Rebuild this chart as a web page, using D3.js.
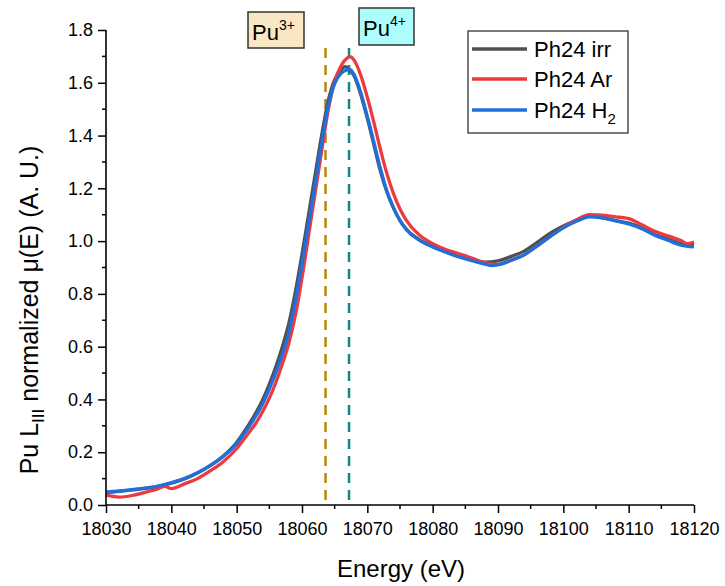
<!DOCTYPE html>
<html><head><meta charset="utf-8">
<script src="https://cdn.jsdelivr.net/npm/d3@7"></script>
<style>body{margin:0;background:#fff}svg{display:block;font-family:"Liberation Sans",Arial,sans-serif}</style>
</head><body>
<svg id="c" width="725" height="586"></svg>
<script>
// ---- data ----
const energyIrr = [18030,18032,18034,18036,18038,18040,18042,18044,18046,18048,18050,18051,18052,18053,18054,18055,18056,18057,18058,18059,18060,18061,18062,18063,18064,18065,18066,18066.6,18067,18068,18069,18070,18071,18072,18073,18074,18075,18076,18078,18080,18082,18084,18086,18088,18090,18092,18094,18096,18098,18100,18102,18104,18106,18108,18110,18112,18114,18116,18118,18120];
const irrValues = [0.048,0.052,0.057,0.063,0.071,0.083,0.099,0.121,0.150,0.187,0.237,0.272,0.310,0.352,0.400,0.458,0.525,0.600,0.690,0.810,0.950,1.100,1.250,1.400,1.530,1.612,1.650,1.661,1.656,1.625,1.555,1.465,1.365,1.265,1.185,1.125,1.078,1.045,1.005,0.980,0.960,0.944,0.930,0.920,0.925,0.942,0.962,0.995,1.030,1.057,1.080,1.095,1.088,1.078,1.068,1.050,1.025,1.008,0.990,0.985];

const energyAr = [18030,18032,18034,18036,18038,18039,18040,18042,18044,18046,18048,18050,18051,18052,18053,18054,18055,18056,18057,18058,18059,18060,18061,18062,18063,18064,18065,18066,18067,18067.3,18068,18069,18070,18071,18072,18073,18074,18075,18076,18078,18080,18082,18084,18086,18088,18090,18092,18094,18096,18098,18100,18102,18104,18106,18108,18110,18112,18114,18116,18118,18119,18120];
const arValues = [0.037,0.030,0.036,0.048,0.062,0.071,0.062,0.080,0.100,0.130,0.165,0.214,0.245,0.278,0.312,0.355,0.405,0.465,0.535,0.615,0.720,0.860,1.020,1.180,1.340,1.495,1.605,1.665,1.695,1.699,1.685,1.628,1.545,1.450,1.348,1.255,1.180,1.122,1.078,1.022,0.990,0.968,0.952,0.936,0.918,0.912,0.927,0.948,0.982,1.017,1.052,1.080,1.100,1.098,1.092,1.085,1.062,1.037,1.020,1.002,0.990,0.997];

const energyH2 = [18030,18032,18034,18036,18038,18040,18042,18044,18046,18048,18050,18051,18052,18053,18054,18055,18056,18057,18058,18059,18060,18061,18062,18063,18064,18065,18066,18067,18067.3,18068,18069,18070,18071,18072,18073,18074,18075,18076,18078,18080,18082,18084,18086,18088,18089,18090,18092,18094,18096,18098,18100,18102,18104,18106,18108,18110,18112,18114,18116,18118,18120];
const h2Values = [0.049,0.053,0.058,0.064,0.072,0.085,0.100,0.122,0.150,0.185,0.232,0.265,0.300,0.340,0.385,0.440,0.502,0.572,0.655,0.775,0.915,1.065,1.215,1.370,1.510,1.597,1.637,1.650,1.651,1.630,1.562,1.473,1.375,1.275,1.190,1.127,1.078,1.042,1.003,0.978,0.958,0.940,0.926,0.913,0.907,0.910,0.928,0.948,0.982,1.018,1.050,1.075,1.092,1.088,1.077,1.065,1.047,1.022,1.003,0.985,0.978];

const seriesNames = ["Ph24 irr","Ph24 Ar","Ph24 H2"];
const seriesColors = ["#505050","#ec3b3f","#1f6fdc"];
const refEnergies = [18063.6,18067.2];
const refLabels = ["Pu3+","Pu4+"];
const xTicks = [18030,18040,18050,18060,18070,18080,18090,18100,18110,18120];
const yTicks = [0,0.2,0.4,0.6,0.8,1.0,1.2,1.4,1.6,1.8];

// ---- layout ----
const svg = d3.select("#c");
const x = d3.scaleLinear().domain([18030,18120]).range([106,694]);
const y = d3.scaleLinear().domain([0,1.8]).range([505,30]);

// reference dashed lines
const refColors = ["#b8860b","#118a86"];
refEnergies.forEach((e,i)=>{
  svg.append("line").attr("x1",x(e)).attr("x2",x(e)).attr("y1",48).attr("y2",505)
    .attr("stroke",refColors[i]).attr("stroke-width",2.5).attr("stroke-dasharray","10,7");
});

// curves
const datasets = [
  energyIrr.map((e,i)=>[e,irrValues[i]]),
  energyAr.map((e,i)=>[e,arValues[i]]),
  energyH2.map((e,i)=>[e,h2Values[i]])
];
const line = d3.line().x(d=>x(d[0])).y(d=>y(d[1])).curve(d3.curveMonotoneX);
datasets.forEach((ds,i)=>{
  svg.append("path").datum(ds).attr("d",line).attr("fill","none")
    .attr("stroke",seriesColors[i]).attr("stroke-width",3.3).attr("stroke-linejoin","round");
});

// axes
const xAxis = d3.axisBottom(x).tickValues(xTicks).tickFormat(d3.format("d")).tickSize(8).tickPadding(9);
const gx = svg.append("g").attr("transform","translate(0,505)").call(xAxis);
const xMinor = d3.range(18035,18120,10);
gx.selectAll(".minor").data(xMinor).enter().append("line").attr("class","minor")
  .attr("x1",d=>x(d)).attr("x2",d=>x(d)).attr("y1",0).attr("y2",4).attr("stroke","#000").attr("stroke-width",1.5);
const yAxis = d3.axisLeft(y).tickValues(yTicks).tickFormat(d3.format(".1f")).tickSize(8).tickPadding(5);
const gy = svg.append("g").attr("transform","translate(106,0)").call(yAxis);
const yMinor = d3.range(0.1,1.8,0.2);
gy.selectAll(".minor").data(yMinor).enter().append("line").attr("class","minor")
  .attr("x1",0).attr("x2",-4).attr("y1",d=>y(d)).attr("y2",d=>y(d)).attr("stroke","#000").attr("stroke-width",1.5);
[gx,gy].forEach(g=>{
  g.select(".domain").attr("stroke","#000").attr("stroke-width",1.6);
  g.selectAll(".tick line").attr("stroke","#000").attr("stroke-width",1.5);
  g.selectAll(".tick text").attr("font-size",18).attr("fill","#000").attr("font-family","'Liberation Sans',Arial,sans-serif");
});
gx.select(".domain").attr("d","M106,0H694");
gy.select(".domain").attr("d","M0,505V30");

// axis titles
svg.append("text").attr("x",401).attr("y",577).attr("text-anchor","middle").attr("font-size",24).text("Energy (eV)");
const yt = svg.append("text").attr("transform","translate(38,310) rotate(-90)").attr("text-anchor","middle").attr("font-size",25);
yt.append("tspan").text("Pu L");
yt.append("tspan").attr("font-size",17).attr("dy",6).text("III");
yt.append("tspan").attr("dy",-6).text(" normalized \u03BC(E) (A. U.)");

// Pu labels
const boxes = [{x:248,y:12,w:56,h:36,fill:"#f9e6c2"},{x:359,y:8,w:55,h:37,fill:"#aefdfd"}];
boxes.forEach((b,i)=>{
  svg.append("rect").attr("x",b.x).attr("y",b.y).attr("width",b.w).attr("height",b.h)
    .attr("fill",b.fill).attr("stroke","#333").attr("stroke-width",1.5);
  const t = svg.append("text").attr("x",b.x+4).attr("y",b.y+28).attr("font-size",22);
  t.append("tspan").text(refLabels[i].slice(0,2));
  t.append("tspan").attr("font-size",14).attr("dy",-10).text(refLabels[i].slice(2));
});

// legend
svg.append("rect").attr("x",468).attr("y",31).attr("width",160).attr("height",102)
  .attr("fill","#fff").attr("stroke","#222").attr("stroke-width",1.2);
const legY = [49,79,110];
seriesNames.forEach((n,i)=>{
  svg.append("line").attr("x1",472).attr("x2",527).attr("y1",legY[i]).attr("y2",legY[i])
    .attr("stroke",seriesColors[i]).attr("stroke-width",3.5);
  const t = svg.append("text").attr("x",534).attr("y",legY[i]+8).attr("font-size",22);
  if(n.endsWith("H2")){
    t.append("tspan").text("Ph24 H");
    t.append("tspan").attr("font-size",15).attr("dy",6).text("2");
  } else t.text(n);
});
</script>
</body></html>
